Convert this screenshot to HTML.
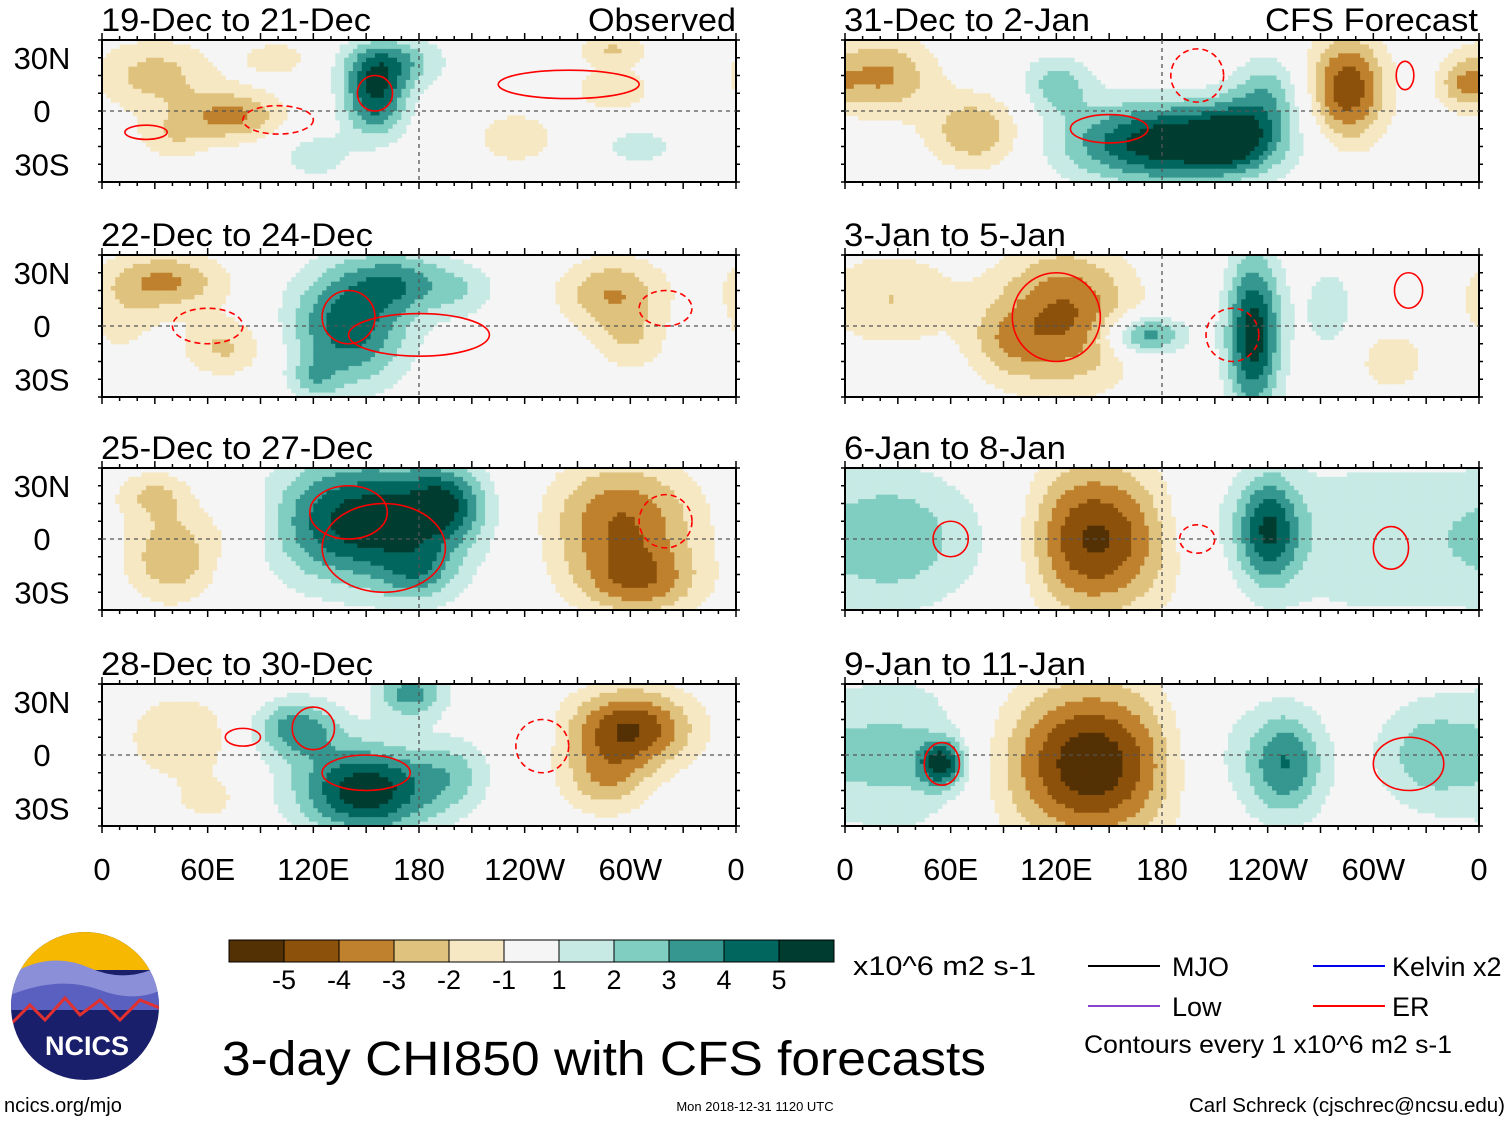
<!DOCTYPE html>
<html><head><meta charset="utf-8"><style>
body{margin:0;background:#fff;font-family:"Liberation Sans",sans-serif;}
#wrap{position:relative;width:1510px;height:1121px;overflow:hidden;}
</style></head><body>
<div id="wrap">
<svg id="svg" width="1510" height="1121" style="position:absolute;left:0;top:0"></svg>
</div>
<script>
// ---- data ----
const panelTitles = ["19-Dec to 21-Dec","22-Dec to 24-Dec","25-Dec to 27-Dec","28-Dec to 30-Dec","31-Dec to 2-Jan","3-Jan to 5-Jan","6-Jan to 8-Jan","9-Jan to 11-Jan"];
const titleWidths = [270,272,272,272,246,222,222,242];
const levelColors = ["#543005","#8c510a","#bf812d","#dfc27d","#f6e8c3","#f5f5f5","#c7eae5","#80cdc1","#35978f","#01665e","#003c30"];
const levelLabels = ["-5","-4","-3","-2","-1","1","2","3","4","5"];
const lonLabels = ["0","60E","120E","180","120W","60W","0"];
const latLabels = ["30N","0","30S"];
// anomaly blobs per panel: [lon(E), lat, amplitude, sigmaLon, sigmaLat]
const blobs0 = [[30,20,-2.4,25,15],[75,-3,-3.2,20,10],[40,-15,-1.6,15,10],[155,8,4.8,13,16],[165,28,2.8,20,10],[120,-25,1.6,15,10],[235,-15,-2,15,10],[305,-20,1.6,15,8],[290,12,-1.7,18,10],[290,35,-2,15,6],[100,30,-1.5,15,8]];
const blobs1 = [[35,25,-3.2,25,12],[70,-12,-2.2,18,12],[10,0,-1.2,15,15],[140,0,4.6,24,24],[170,25,2.8,20,12],[205,20,1.5,15,12],[290,18,-3,22,15],[300,-10,-1.6,15,12],[120,-30,1.6,10,8]];
const blobs2 = [[150,10,5.8,38,25],[40,-10,-3,18,18],[30,25,-2,15,10],[295,10,-4,30,24],[305,-25,-3,25,14],[195,20,3.2,15,15],[180,-20,2,15,12],[80,10,-1.2,15,15]];
const blobs3 = [[150,-20,5.8,28,18],[110,15,3.5,18,12],[175,35,3.5,14,10],[300,15,-5,25,16],[285,-15,-2.5,18,14],[45,10,-2,22,18],[200,-10,1.8,15,15],[240,15,1.2,10,8],[60,-25,-1.5,12,8]];
const blobs4 = [[185,-18,6,42,16],[285,12,-4.8,16,22],[20,20,-3.2,22,16],[75,-12,-3,20,15],[120,15,2.4,15,12],[240,10,2.5,15,15],[220,-15,3,15,12],[350,15,-2,10,10]];
const blobs5 = [[125,5,-4.2,28,28],[232,-5,5.6,11,32],[170,-5,4.2,16,8],[25,15,-2,28,20],[310,-20,-1.8,14,12],[90,-10,-1.5,15,15],[275,10,1.5,12,20]];
const blobs6 = [[140,0,-5.3,32,30],[240,5,4.6,13,22],[30,0,2.6,32,28],[300,0,1.8,45,35],[95,0,1.3,20,30],[200,10,1,15,20]];
const blobs7 = [[140,-5,-5.8,36,32],[55,-5,4.6,9,9],[250,-5,4,16,22],[330,0,2.3,22,22],[30,0,2.3,32,32],[205,0,1.4,20,30]];
const panelBlobs = [blobs0,blobs1,blobs2,blobs3,blobs4,blobs5,blobs6,blobs7];
// red ER contours: [lon, lat, rLon, rLat, dashed(1)/solid(0)]
const erContours = [
 [[155,10,10,10,0],[25,-12,12,4,0],[100,-5,20,8,1],[265,15,40,8,0]],
 [[140,5,15,15,0],[180,-5,40,12,0],[60,0,20,10,1],[320,10,15,10,1]],
 [[140,15,22,15,0],[160,-5,35,25,0],[320,10,15,15,1]],
 [[120,15,12,12,0],[150,-10,25,10,0],[80,10,10,5,0],[250,5,15,15,1]],
 [[150,-10,22,8,0],[200,20,15,15,1],[318,20,5,8,0]],
 [[120,5,25,25,0],[220,-5,15,15,1],[320,20,8,10,0]],
 [[60,0,10,10,0],[200,0,10,8,1],[310,-5,10,12,0]],
 [[55,-5,10,12,0],[320,-5,20,15,0]]
];
// ---- helpers ----
const NS="http://www.w3.org/2000/svg";
const svg=document.getElementById('svg');
function mk(tag,attrs,parent){const e=document.createElementNS(NS,tag);for(const k in attrs)e.setAttribute(k,attrs[k]);(parent||svg).appendChild(e);return e;}
const panelX=[102,845], panelY=[40,255,468,684], PW=634, PH=142;
function xS(px,lon){return px+lon/360*PW;}
function yS(py,lat){return py+(40-lat)/80*PH;}
function field(bl,lon,lat){let v=0;for(const b of bl){let dl=Math.abs(lon-b[0]);dl=Math.min(dl,360-dl);v+=b[2]*Math.exp(-(dl*dl)/(2*b[3]*b[3])-((lat-b[1])*(lat-b[1]))/(2*b[4]*b[4]));}return v;}
function colorFor(v){let i;if(v>-1&&v<1)i=5;else if(v>0)i=5+Math.floor(v);else i=5+Math.ceil(v);return levelColors[Math.max(0,Math.min(10,i))];}
for(let p=0;p<8;p++){
  const px=panelX[p<4?0:1], py=panelY[p%4];
  const g=mk('g',{});
  
  
  mk('rect',{x:px,y:py,width:PW,height:PH,fill:'#f5f5f5'},g);
  const step=2.5;
  for(let lon=0;lon<360;lon+=step){for(let lat=40;lat>-40;lat-=step){
    const v=field(panelBlobs[p],lon+step/2,lat-step/2);
    const c=colorFor(v); if(c==="#f5f5f5")continue;
    const r=mk('rect',{x:xS(px,lon).toFixed(2),y:yS(py,lat).toFixed(2),width:(step/360*PW+0.6).toFixed(2),height:(step/80*PH+0.6).toFixed(2),fill:c},g);
    
    
  }}
  mk('rect',{x:px,y:py,width:PW,height:PH,fill:'none',stroke:'#000','stroke-width':2},g);
  mk('line',{x1:px,x2:px+PW,y1:yS(py,0),y2:yS(py,0),stroke:'#555','stroke-dasharray':'4 4','stroke-width':1.3},g);
  mk('line',{x1:xS(px,180),x2:xS(px,180),y1:py,y2:py+PH,stroke:'#555','stroke-dasharray':'4 4','stroke-width':1.3},g);
  for(const c of erContours[p]){
    const e=mk('ellipse',{cx:xS(px,c[0]),cy:yS(py,c[1]),rx:c[2]/360*PW,ry:c[3]/80*PH,fill:'none',stroke:'#f00','stroke-width':1.6},g);
    if(c[4])e.setAttribute('stroke-dasharray','6 4');
    
    
  }
  for(let lon=0;lon<=360;lon+=10){const L=lon%30===0?7:4;
    mk('line',{x1:xS(px,lon),x2:xS(px,lon),y1:py,y2:py-L,stroke:'#000','stroke-width':1.5},g);
    mk('line',{x1:xS(px,lon),x2:xS(px,lon),y1:py+PH,y2:py+PH+L,stroke:'#000','stroke-width':1.5},g);}
  for(let lat=-40;lat<=40;lat+=10){mk('line',{x1:px-4,x2:px,y1:yS(py,lat),y2:yS(py,lat),stroke:'#000','stroke-width':1.5},g);mk('line',{x1:px+PW,x2:px+PW+4,y1:yS(py,lat),y2:yS(py,lat),stroke:'#000','stroke-width':1.5},g);}
  const t=mk('text',{x:px-1,y:py-9,'font-size':32,'font-family':'Liberation Sans',textLength:titleWidths[p],lengthAdjust:'spacingAndGlyphs'},g);t.textContent=panelTitles[p];
  
  
  if(p<4){latLabels.forEach((s,i)=>{const tl=mk('text',{x:42,y:yS(py,30-30*i)+11,'font-size':31,'text-anchor':'middle','font-family':'Liberation Sans'},g);tl.textContent=s;
    
    });}
  if(p%4===3){lonLabels.forEach((s,i)=>{const tl=mk('text',{x:xS(px,i*60),y:880,'font-size':31,'text-anchor':'middle','font-family':'Liberation Sans'},g);tl.textContent=s;
    
    });}
}
function txt(x,y,s,size,anchor,name,len){const t=mk('text',{x:x,y:y,'font-size':size,'text-anchor':anchor||'start','font-family':'Liberation Sans'});if(len){t.setAttribute('textLength',len);t.setAttribute('lengthAdjust','spacingAndGlyphs');}t.textContent=s;return t;}
txt(736,31,'Observed',32,'end','observed-label',148);
txt(1478,31,'CFS Forecast',32,'end','forecast-label',213);
// colorbar
const cb=mk('g',{});
levelColors.forEach((c,i)=>{mk('rect',{x:229+i*55,y:940,width:55,height:22,fill:c,stroke:'#000','stroke-width':1},cb);});
levelLabels.forEach((s,i)=>{const t=mk('text',{x:284+i*55,y:989,'font-size':27,'text-anchor':'middle','font-family':'Liberation Sans'},cb);t.textContent=s;});
txt(853,975,'x10^6 m2 s-1',27,'start','colorbar-units',183);
// legend
const lg=[[1088,966,'#000','MJO',1172],[1088,1006,'#8844cc','Low',1172],[1313,966,'#0000ee','Kelvin x2',1392],[1313,1006,'#f00','ER',1392]];
lg.forEach(l=>{const ln=mk('line',{x1:l[0],x2:l[0]+72,y1:l[1],y2:l[1],stroke:l[2],'stroke-width':2});txt(l[4],l[1]+10,l[3],27,'start','legend-entry');});
txt(1084,1053,'Contours every 1 x10^6 m2 s-1',25,'start','contour-note',368);
txt(222,1075,'3-day CHI850 with CFS forecasts',48,'start','main-title',764);
txt(4,1112,'ncics.org/mjo',20,'start','url-label');
txt(755,1111,'Mon 2018-12-31 1120 UTC',13,'middle','timestamp');
txt(1505,1112,'Carl Schreck (cjschrec@ncsu.edu)',20,'end','author',316);
// logo
const lo=mk('g',{});
mk('defs',{}).innerHTML='<clipPath id="lc"><circle cx="85" cy="1006" r="74"/></clipPath>';
mk('circle',{cx:85,cy:1006,r:74,fill:'#1a1f6b'},lo);
const lg2=mk('g',{'clip-path':'url(#lc)'},lo);
mk('rect',{x:0,y:930,width:170,height:40,fill:'#f6b800'},lg2);
mk('path',{d:'M10 975 Q50 950 90 968 T170 960 L170 1000 L10 1000Z',fill:'#8b8fd8'},lg2);
mk('path',{d:'M10 995 Q60 975 100 990 T170 985 L170 1010 L10 1010Z',fill:'#5a60c0'},lg2);
mk('path',{d:'M10 1025 L30 1005 L45 1020 L65 998 L80 1015 L100 1000 L120 1020 L140 1000 L165 1010',fill:'none',stroke:'#e03030','stroke-width':3},lg2);
const nt=mk('text',{x:87,y:1055,'font-size':27,'font-weight':'bold','text-anchor':'middle',fill:'#fff','font-family':'Liberation Sans'},lo);nt.textContent='NCICS';
</script>
</body></html>
